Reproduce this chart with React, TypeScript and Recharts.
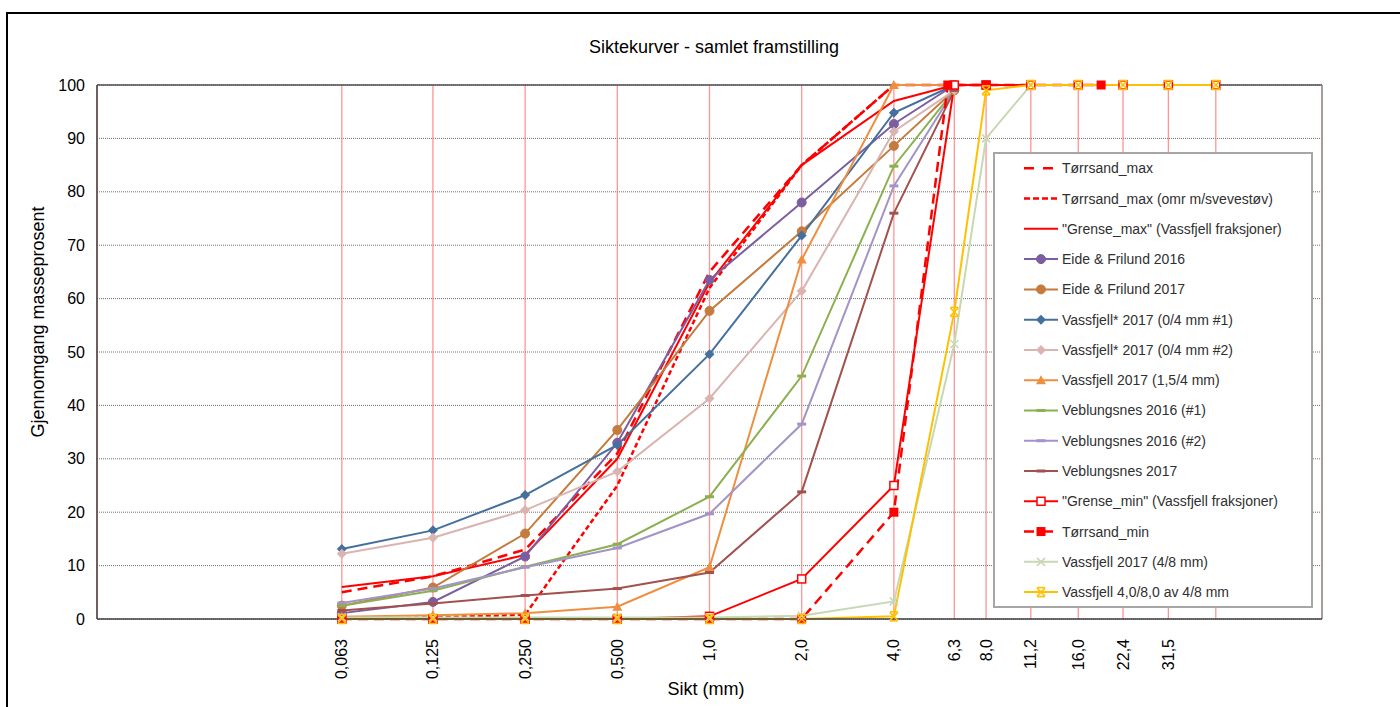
import React from 'react';
import { LineChart, Line, XAxis, YAxis, CartesianGrid, ReferenceLine } from 'recharts';

const FONT = '"Liberation Sans", Arial, sans-serif';

const X_TICKS = [0.063, 0.125, 0.25, 0.5, 1, 2, 4, 6.3, 8, 11.2, 16, 22.4, 31.5, 45];
const X_TICK_LABELS = ['0,063', '0,125', '0,250', '0,500', '1,0', '2,0', '4,0', '6,3', '8,0', '11,2', '16,0', '22,4', '31,5', ''];
const Y_TICKS = [0, 10, 20, 30, 40, 50, 60, 70, 80, 90, 100];

const FULL_X = [0.063, 0.125, 0.25, 0.5, 1, 2, 4, 6.3, 8, 11.2, 16, 22.4, 31.5, 45];
const CORE_X = [0.063, 0.125, 0.25, 0.5, 1, 2, 4, 6.3];

const TORRSAND_MAX_X = [0.063, 0.125, 0.25, 0.5, 1, 2, 4, 8];
const TORRSAND_MAX_Y = [5, 8, 13, 31, 65, 85, 100, 100];

const SVEVESTOV_X = [0.063, 0.125, 0.25, 0.5, 1, 2, 4];
const SVEVESTOV_Y = [0, 0.3, 0.8, 25, 62, 85, 100];

const GRENSE_MAX_Y = [6, 8, 12, 30, 63, 85, 97, 100, 100, 100, 100, 100, 100, 100];

const EIDE_2016_Y = [1.1, 3.2, 11.7, 33, 63.5, 78, 92.7, 100];
const EIDE_2017_Y = [2.5, 5.9, 16, 35.4, 57.7, 72.6, 88.6, 99];
const VASSFJELL_04_1_Y = [13.1, 16.6, 23.2, 32.6, 49.6, 71.8, 94.8, 100];
const VASSFJELL_04_2_Y = [12.2, 15.2, 20.4, 27.6, 41.3, 61.4, 91.3, 99];
const VASSFJELL_154_Y = [0.4, 0.7, 1.1, 2.3, 9.7, 67.3, 100, 100];
const VEB_2016_1_Y = [2.5, 5.3, 9.8, 14, 22.9, 45.5, 84.8, 99];
const VEB_2016_2_Y = [3, 5.7, 9.7, 13.3, 19.7, 36.5, 81.1, 99];
const VEB_2017_Y = [1.6, 2.9, 4.4, 5.7, 8.7, 23.8, 76, 99];

const GRENSE_MIN_Y = [0, 0, 0, 0, 0.5, 7.5, 25, 100, 100, 100, 100, 100, 100, 100];

const TORRSAND_MIN_X = [0.063, 0.125, 0.25, 0.5, 1, 2, 4, 6, 8, 19];
const TORRSAND_MIN_Y = [0, 0, 0, 0, 0, 0, 20, 100, 100, 100];

const VASSFJELL_48_X = [0.063, 0.125, 0.25, 0.5, 1, 2, 4, 6.3, 8, 11.2];
const VASSFJELL_48_Y = [0.3, 0.3, 0.3, 0.3, 0.3, 0.6, 3.3, 51.5, 90, 100];

const VASSFJELL_AV48_Y = [0, 0, 0, 0, 0, 0, 0.5, 57.5, 99, 100, 100, 100, 100, 100];

type MarkerKind = 'none' | 'circle' | 'diamond' | 'triangle' | 'dash' | 'squareOpen' | 'squareFilled' | 'x' | 'star';

interface SeriesDef {
  name: string;
  xs: number[];
  ys: number[];
  color: string;
  width: number;
  dash?: string;
  marker: MarkerKind;
}

const SERIES: SeriesDef[] = [
  { name: 'Tørrsand_max', xs: TORRSAND_MAX_X, ys: TORRSAND_MAX_Y, color: '#FF0000', width: 2.5, dash: '10 6', marker: 'none' },
  { name: 'Tørrsand_max (omr m/svevestøv)', xs: SVEVESTOV_X, ys: SVEVESTOV_Y, color: '#FF0000', width: 2.5, dash: '5 3', marker: 'none' },
  { name: '"Grense_max" (Vassfjell fraksjoner)', xs: FULL_X, ys: GRENSE_MAX_Y, color: '#FF0000', width: 2, marker: 'none' },
  { name: 'Eide & Frilund 2016', xs: CORE_X, ys: EIDE_2016_Y, color: '#7B5EA0', width: 2, marker: 'circle' },
  { name: 'Eide & Frilund 2017', xs: CORE_X, ys: EIDE_2017_Y, color: '#C47B3E', width: 2, marker: 'circle' },
  { name: 'Vassfjell* 2017 (0/4 mm #1)', xs: CORE_X, ys: VASSFJELL_04_1_Y, color: '#45709E', width: 2, marker: 'diamond' },
  { name: 'Vassfjell* 2017 (0/4 mm #2)', xs: CORE_X, ys: VASSFJELL_04_2_Y, color: '#D9B4B1', width: 2, marker: 'diamond' },
  { name: 'Vassfjell 2017 (1,5/4 mm)', xs: CORE_X, ys: VASSFJELL_154_Y, color: '#EE8F3F', width: 2, marker: 'triangle' },
  { name: 'Veblungsnes 2016 (#1)', xs: CORE_X, ys: VEB_2016_1_Y, color: '#8CB050', width: 2, marker: 'dash' },
  { name: 'Veblungsnes 2016 (#2)', xs: CORE_X, ys: VEB_2016_2_Y, color: '#A294C6', width: 2, marker: 'dash' },
  { name: 'Veblungsnes 2017', xs: CORE_X, ys: VEB_2017_Y, color: '#A3514F', width: 2, marker: 'dash' },
  { name: '"Grense_min" (Vassfjell fraksjoner)', xs: FULL_X, ys: GRENSE_MIN_Y, color: '#FF0000', width: 2, marker: 'squareOpen' },
  { name: 'Tørrsand_min', xs: TORRSAND_MIN_X, ys: TORRSAND_MIN_Y, color: '#FF0000', width: 2.5, dash: '10 6', marker: 'squareFilled' },
  { name: 'Vassfjell 2017 (4/8 mm)', xs: VASSFJELL_48_X, ys: VASSFJELL_48_Y, color: '#C6D8B4', width: 2, marker: 'x' },
  { name: 'Vassfjell 4,0/8,0 av 4/8 mm', xs: FULL_X, ys: VASSFJELL_AV48_Y, color: '#FFC000', width: 2, marker: 'star' },
];

function Marker({ kind, color, cx, cy }: { kind: MarkerKind; color: string; cx: number; cy: number }) {
  if (cx == null || cy == null || isNaN(cx) || isNaN(cy)) return <g />;
  switch (kind) {
    case 'circle':
      return <circle cx={cx} cy={cy} r={4.5} fill={color} stroke={color} />;
    case 'diamond':
      return <polygon points={`${cx},${cy - 5} ${cx + 5},${cy} ${cx},${cy + 5} ${cx - 5},${cy}`} fill={color} />;
    case 'triangle':
      return <polygon points={`${cx},${cy - 5} ${cx + 5},${cy + 4} ${cx - 5},${cy + 4}`} fill={color} />;
    case 'dash':
      return <rect x={cx - 4.5} y={cy - 1.5} width={9} height={3} fill={color} />;
    case 'squareOpen':
      return <rect x={cx - 4} y={cy - 4} width={8} height={8} fill="#FFFFFF" stroke={color} strokeWidth={1.5} />;
    case 'squareFilled':
      return <rect x={cx - 4.5} y={cy - 4.5} width={9} height={9} fill={color} />;
    case 'x':
      return (
        <g stroke={color} strokeWidth={1.6}>
          <line x1={cx - 4} y1={cy - 4} x2={cx + 4} y2={cy + 4} />
          <line x1={cx - 4} y1={cy + 4} x2={cx + 4} y2={cy - 4} />
        </g>
      );
    case 'star':
      return (
        <g stroke={color} strokeWidth={1.6}>
          <line x1={cx - 4} y1={cy - 4} x2={cx + 4} y2={cy + 4} />
          <line x1={cx - 4} y1={cy + 4} x2={cx + 4} y2={cy - 4} />
          <line x1={cx - 4} y1={cy - 4.5} x2={cx + 4} y2={cy - 4.5} />
          <line x1={cx - 4} y1={cy + 4.5} x2={cx + 4} y2={cy + 4.5} />
        </g>
      );
    default:
      return <g />;
  }
}

const XTick = (props: any) => {
  const { x, y, payload } = props;
  const idx = X_TICKS.indexOf(payload.value);
  const label = idx >= 0 ? X_TICK_LABELS[idx] : '';
  const ty = y + 12;
  return (
    <text
      x={x}
      y={ty}
      transform={`rotate(-90 ${x} ${ty})`}
      textAnchor="end"
      dominantBaseline="central"
      fontSize={16}
      fontFamily={FONT}
      fill="#000"
    >
      {label}
    </text>
  );
};

function LegendBox() {
  const W = 320;
  const H = 456;
  return (
    <svg width={W} height={H} style={{ position: 'absolute', left: 993, top: 152 }}>
      <rect x={1} y={1} width={W - 2} height={H - 2} fill="#FFFFFF" stroke="#A6A6A6" strokeWidth={2} />
      {SERIES.map((s, i) => {
        const cy = 16.3 + i * 30.27;
        return (
          <g key={s.name}>
            <line x1={31} y1={cy} x2={65} y2={cy} stroke={s.color} strokeWidth={s.width} strokeDasharray={s.dash === '10 6' ? '10 9' : s.dash === '5 3' ? '6 3' : undefined} />
            <Marker kind={s.marker} color={s.color} cx={48} cy={cy} />
            <text x={69} y={cy} dominantBaseline="central" fontSize={14} fontFamily={FONT} fill="#303030">
              {s.name}
            </text>
          </g>
        );
      })}
    </svg>
  );
}

export default function App() {
  return (
    <div style={{ position: 'absolute', left: 0, top: 0, width: 1400, height: 707, overflow: 'hidden', background: '#fff', fontFamily: FONT }}>
      <div style={{ position: 'absolute', left: 6, top: 12, width: 1500, height: 800, border: '2px solid #000' }} />
      <LineChart width={1400} height={707} margin={{ top: 85, right: 78, left: 0, bottom: 0 }} style={{ position: 'absolute', left: 0, top: 0 }}>
        <CartesianGrid vertical={false} stroke="#707070" strokeDasharray="1 1" />
        <CartesianGrid horizontal={false} stroke="#FF7070" strokeOpacity={0.75} strokeWidth={1.3} />
        <XAxis
          dataKey="x"
          type="number"
          scale="log"
          domain={[0.01, 100]}
          allowDataOverflow
          ticks={X_TICKS}
          interval={0}
          tick={<XTick />}
          tickLine={false}
          axisLine={{ stroke: '#404040', strokeWidth: 1.5 }}
          height={88}
        />
        <YAxis
          type="number"
          domain={[0, 100]}
          ticks={Y_TICKS}
          interval={0}
          tickLine={false}
          tickMargin={6}
          axisLine={{ stroke: '#404040', strokeWidth: 1.5 }}
          tick={{ fontSize: 16, fontFamily: FONT, fill: '#000' }}
          width={97}
        />
        <ReferenceLine y={100} stroke="#505050" strokeWidth={1.5} />
        <ReferenceLine x={100} stroke="#909090" strokeWidth={1.5} />
        {SERIES.map((s) => (
          <Line
            key={s.name}
            name={s.name}
            data={s.xs.map((x, i) => ({ x, y: s.ys[i] }))}
            dataKey="y"
            type="linear"
            stroke={s.color}
            strokeWidth={s.width}
            strokeDasharray={s.dash}
            isAnimationActive={false}
            activeDot={false}
            dot={s.marker === 'none' ? false : (p: any) => <Marker key={`${s.name}-${p.index}`} kind={s.marker} color={s.color} cx={p.cx} cy={p.cy} />}
          />
        ))}
      </LineChart>
      <LegendBox />
      <div style={{ position: 'absolute', left: 414, width: 600, top: 37, textAlign: 'center', fontSize: 18, color: '#000', whiteSpace: 'nowrap' }}>
        Siktekurver - samlet framstilling
      </div>
      <div style={{ position: 'absolute', left: 38, top: 322, transform: 'translate(-50%, -50%) rotate(-90deg)', fontSize: 18, color: '#000', whiteSpace: 'nowrap' }}>
        Gjennomgang masseprosent
      </div>
      <div style={{ position: 'absolute', left: 606, width: 200, top: 679, textAlign: 'center', fontSize: 18, color: '#000', whiteSpace: 'nowrap' }}>
        Sikt (mm)
      </div>
    </div>
  );
}
